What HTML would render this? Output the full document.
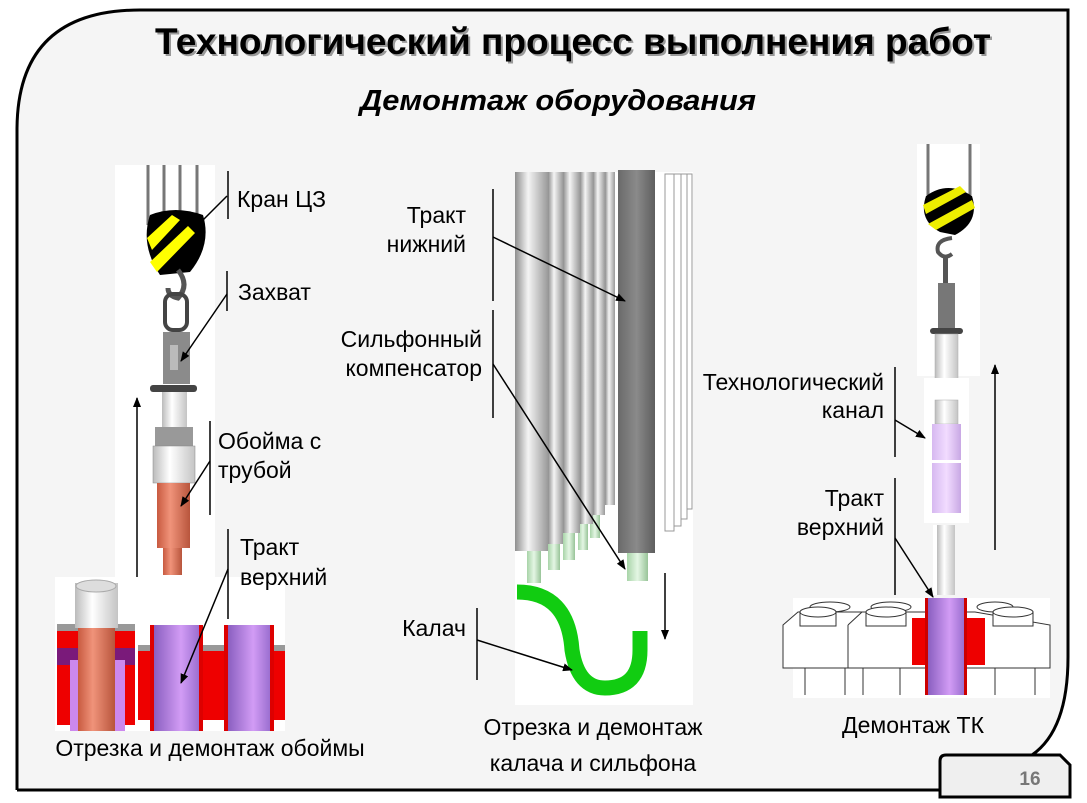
<!DOCTYPE html>
<html><head><meta charset="utf-8"><style>
html,body{margin:0;padding:0;background:#fff;}
svg{display:block;font-family:"Liberation Sans",sans-serif;}
</style></head><body>
<svg width="1087" height="803" viewBox="0 0 1087 803" xmlns="http://www.w3.org/2000/svg">
<defs>
<linearGradient id="gp" x1="0" x2="1"><stop offset="0" stop-color="#8e8e8e"/><stop offset="0.4" stop-color="#f4f4f4"/><stop offset="1" stop-color="#9a9a9a"/></linearGradient>
<linearGradient id="gd" x1="0" x2="1"><stop offset="0" stop-color="#6a6a6a"/><stop offset="0.5" stop-color="#8a8a8a"/><stop offset="1" stop-color="#5e5e5e"/></linearGradient>
<linearGradient id="gs" x1="0" x2="1"><stop offset="0" stop-color="#c85a40"/><stop offset="0.4" stop-color="#f0937a"/><stop offset="1" stop-color="#b8553c"/></linearGradient>
<linearGradient id="gv" x1="0" x2="1"><stop offset="0" stop-color="#8a5fc0"/><stop offset="0.6" stop-color="#d29cf5"/><stop offset="1" stop-color="#9b6fd0"/></linearGradient>
<linearGradient id="gk" x1="0" x2="1"><stop offset="0" stop-color="#d6b8f0"/><stop offset="0.5" stop-color="#f2dcff"/><stop offset="1" stop-color="#c8a8e4"/></linearGradient>
<linearGradient id="gg" x1="0" x2="1"><stop offset="0" stop-color="#a8d4a8"/><stop offset="0.5" stop-color="#e4f6e4"/><stop offset="1" stop-color="#98c498"/></linearGradient>
<linearGradient id="gw" x1="0" x2="1"><stop offset="0" stop-color="#bbb"/><stop offset="0.4" stop-color="#fff"/><stop offset="1" stop-color="#c4c4c4"/></linearGradient>
<marker id="ar" markerWidth="10" markerHeight="8" refX="9" refY="4" orient="auto" markerUnits="userSpaceOnUse"><path d="M0,0 L10,4 L0,8 z" fill="#000"/></marker>
</defs>
<!-- frame -->
<path d="M17,790 L17,130 Q17,10 140,10 L1068,10 L1068,657 Q1068,730 1032,755 L940,755 L940,790 Z" fill="#f5f5f5"/>
<path d="M17,790 L17,130 Q17,10 140,10 L1068,10 L1068,657 Q1068,730 1032,755" fill="none" stroke="#000" stroke-width="3"/>
<line x1="17" y1="790" x2="941" y2="790" stroke="#000" stroke-width="3"/>
<path d="M946,755 L1060,755 L1070,765 L1070,797 L940,797 L940,761 Q940,755 946,755 z" fill="#efefef" stroke="#000" stroke-width="3"/>
<text x="1030" y="785" font-size="19" font-weight="bold" fill="#777" text-anchor="middle">16</text>
<!-- titles -->
<text x="573" y="54" font-size="37" font-weight="bold" text-anchor="middle" fill="#999" transform="translate(2,2)" textLength="836" lengthAdjust="spacingAndGlyphs">Технологический процесс выполнения работ</text>
<text x="573" y="54" font-size="37" font-weight="bold" text-anchor="middle" fill="#000" textLength="836" lengthAdjust="spacingAndGlyphs">Технологический процесс выполнения работ</text>
<text x="558" y="110" font-size="29" font-weight="bold" font-style="italic" text-anchor="middle" fill="#000" textLength="396" lengthAdjust="spacingAndGlyphs">Демонтаж оборудования</text>

<!-- LEFT ILLUSTRATION -->
<rect x="115" y="165" width="100" height="415" fill="#fff"/>
<g stroke="#777" stroke-width="3"><line x1="148" y1="165" x2="148" y2="225"/><line x1="164" y1="165" x2="164" y2="225"/><line x1="180" y1="165" x2="180" y2="225"/><line x1="197" y1="165" x2="197" y2="225"/></g>
<path d="M150,215 Q175,205 203,215 Q212,245 190,272 L160,275 Q140,245 150,215 z" fill="#000"/>
<path d="M147,238 L172,215 L180,220 L152,250 z M150,262 L188,226 L195,233 L157,272 z" fill="#ff0"/>
<path d="M178,270 Q190,285 178,298 Q168,296 168,288" fill="none" stroke="#555" stroke-width="5"/>
<rect x="165" y="294" width="22" height="36" rx="8" fill="none" stroke="#444" stroke-width="4"/>
<rect x="163" y="332" width="27" height="52" fill="#8b8b8b"/>
<rect x="170" y="345" width="8" height="25" fill="#bbb"/>
<rect x="150" y="385" width="47" height="7" rx="3" fill="#444"/>
<rect x="162" y="392" width="25" height="35" fill="url(#gw)"/>
<rect x="155" y="427" width="38" height="19" fill="#999"/>
<rect x="153" y="446" width="42" height="37" fill="url(#gw)" stroke="#888" stroke-width="0.5"/>
<rect x="157" y="483" width="33" height="65" fill="url(#gs)"/>
<rect x="163" y="548" width="19" height="27" fill="url(#gs)"/>
<rect x="163" y="583" width="22" height="36" rx="4" fill="url(#gs)"/>
<ellipse cx="174" cy="602" rx="6" ry="4" fill="#fff"/>
<line x1="137" y1="588" x2="137" y2="398" stroke="#000" stroke-width="1.5" marker-end="url(#ar)"/>
<!-- left bottom panel -->
<rect x="55" y="577" width="230" height="154" fill="#fff"/>
<rect x="57" y="628" width="78" height="97" fill="#e00"/>
<rect x="57" y="624" width="78" height="7" fill="#999"/>
<rect x="57" y="648" width="78" height="17" fill="#7a1a7a"/>
<rect x="70" y="660" width="55" height="71" fill="#cc88ee"/>
<rect x="78" y="628" width="37" height="103" fill="url(#gs)"/>
<rect x="75" y="583" width="43" height="45" fill="url(#gw)"/>
<ellipse cx="96" cy="586" rx="20" ry="6" fill="#ddd" stroke="#aaa"/>
<rect x="138" y="650" width="147" height="70" fill="#e00"/>
<rect x="138" y="645" width="147" height="6" fill="#999"/>
<rect x="150" y="625" width="53" height="106" fill="#d00"/>
<rect x="154" y="625" width="45" height="106" fill="url(#gv)"/>
<rect x="224" y="625" width="50" height="106" fill="#d00"/>
<rect x="228" y="625" width="42" height="106" fill="url(#gv)"/>
<!-- left labels -->
<g font-size="23" fill="#000">
<text x="237" y="207">Кран ЦЗ</text>
<text x="238" y="300">Захват</text>
<text x="218" y="449">Обойма с</text>
<text x="218" y="478">трубой</text>
<text x="240" y="555">Тракт</text>
<text x="240" y="585">верхний</text>
<text x="210" y="756" text-anchor="middle">Отрезка и демонтаж обоймы</text>
</g>
<g stroke="#000" stroke-width="1.5" fill="none">
<line x1="228" y1="171" x2="228" y2="219"/><line x1="227" y1="196" x2="200" y2="223"/>
<line x1="227" y1="271" x2="227" y2="311"/><line x1="227" y1="294" x2="181" y2="361" marker-end="url(#ar)"/>
<line x1="210" y1="421" x2="210" y2="515"/><line x1="210" y1="461" x2="181" y2="506" marker-end="url(#ar)"/>
<line x1="228" y1="529" x2="228" y2="619"/><line x1="228" y1="569" x2="181" y2="683" marker-end="url(#ar)"/>
</g>

<!-- MIDDLE -->
<rect x="515" y="172" width="178" height="533" fill="#fff"/>
<rect x="527" y="548" width="14" height="35" fill="url(#gg)"/>
<rect x="548" y="540" width="12" height="30" fill="url(#gg)"/>
<rect x="563" y="530" width="12" height="30" fill="url(#gg)"/>
<rect x="578" y="520" width="10" height="30" fill="url(#gg)"/>
<rect x="590" y="510" width="10" height="28" fill="url(#gg)"/>
<rect x="515" y="172" width="33" height="379" fill="url(#gp)"/>
<rect x="548" y="172" width="15" height="372" fill="url(#gp)"/>
<rect x="563" y="172" width="17" height="361" fill="url(#gp)"/>
<rect x="580" y="172" width="13" height="352" fill="url(#gp)"/>
<rect x="593" y="172" width="12" height="343" fill="url(#gp)"/>
<rect x="605" y="172" width="10" height="333" fill="url(#gp)"/>
<rect x="618" y="170" width="37" height="383" fill="url(#gd)"/>
<rect x="627" y="553" width="21" height="28" fill="url(#gg)"/>
<g fill="#fff" stroke="#999" stroke-width="1">
<rect x="665" y="174" width="9" height="357"/><rect x="674" y="174" width="7" height="352"/><rect x="681" y="174" width="6" height="345"/><rect x="687" y="174" width="5" height="335"/>
</g>
<path d="M517,592 Q568,592 572,650 Q578,688 605,688 Q640,688 640,650 L640,631" fill="none" stroke="#11cc11" stroke-width="15"/>
<line x1="665" y1="573" x2="665" y2="639" stroke="#000" stroke-width="1.5" marker-end="url(#ar)"/>
<g font-size="23" fill="#000" text-anchor="end">
<text x="466" y="223">Тракт</text>
<text x="466" y="252">нижний</text>
<text x="482" y="347">Сильфонный</text>
<text x="482" y="376">компенсатор</text>
<text x="466" y="636">Калач</text>
</g>
<g font-size="23" fill="#000" text-anchor="middle">
<text x="593" y="735">Отрезка и демонтаж</text>
<text x="593" y="771">калача и сильфона</text>
<text x="913" y="733">Демонтаж ТК</text>
</g>
<g stroke="#000" stroke-width="1.5" fill="none">
<line x1="493" y1="189" x2="493" y2="301"/><line x1="493" y1="237" x2="625" y2="301" marker-end="url(#ar)"/>
<line x1="493" y1="310" x2="493" y2="418"/><line x1="493" y1="364" x2="625" y2="569" marker-end="url(#ar)"/>
<line x1="477" y1="608" x2="477" y2="680"/><line x1="477" y1="640" x2="572" y2="670" marker-end="url(#ar)"/>
</g>

<!-- RIGHT -->
<rect x="917" y="144" width="63" height="232" fill="#fff"/>
<g stroke="#777" stroke-width="3"><line x1="928" y1="144" x2="928" y2="195"/><line x1="970" y1="144" x2="970" y2="195"/></g>
<path d="M926,196 Q948,180 972,196 Q980,222 955,235 L940,232 Q918,220 926,196 z" fill="#000"/>
<path d="M923,205 L960,186 L966,192 L926,214 z M928,224 L972,200 L975,208 L936,230 z" fill="#ee0"/>
<path d="M952,238 Q935,240 938,252 Q944,260 952,254" fill="none" stroke="#555" stroke-width="4"/>
<rect x="943" y="258" width="5" height="26" fill="#555"/>
<rect x="938" y="283" width="17" height="45" fill="#777"/>
<rect x="930" y="328" width="33" height="6" rx="3" fill="#444"/>
<rect x="935" y="334" width="23" height="62" fill="url(#gw)" stroke="#aaa" stroke-width="0.5"/>
<rect x="924" y="378" width="45" height="145" fill="#fff"/>
<rect x="935" y="400" width="23" height="24" fill="url(#gw)" stroke="#aaa" stroke-width="0.5"/>
<rect x="932" y="424" width="29" height="36" fill="url(#gk)"/>
<rect x="932" y="463" width="29" height="50" fill="url(#gk)"/>
<rect x="933" y="525" width="22" height="70" fill="#fff"/>
<rect x="937" y="525" width="18" height="70" fill="url(#gw)"/>
<rect x="793" y="598" width="257" height="100" fill="#fff"/>
<g fill="#fff" stroke="#333" stroke-width="1">
<path d="M783,625 L798,612 L975,612 L1050,625 L1050,668 L783,668 z"/>
<line x1="848" y1="625" x2="848" y2="668"/><line x1="848" y1="625" x2="862" y2="612"/>
<line x1="805" y1="668" x2="805" y2="695"/><line x1="845" y1="668" x2="845" y2="695"/>
<line x1="863" y1="668" x2="863" y2="695"/><line x1="900" y1="668" x2="900" y2="695"/>
<line x1="995" y1="668" x2="995" y2="695"/><line x1="1035" y1="668" x2="1035" y2="695"/>
<ellipse cx="830" cy="607" rx="20" ry="5"/><rect x="800" y="612" width="36" height="14"/><ellipse cx="818" cy="612" rx="18" ry="5"/>
<ellipse cx="891" cy="607" rx="20" ry="5"/><rect x="866" y="612" width="40" height="14"/><ellipse cx="886" cy="612" rx="20" ry="5"/>
<ellipse cx="995" cy="607" rx="18" ry="5"/><rect x="993" y="612" width="40" height="14"/><ellipse cx="1013" cy="612" rx="20" ry="5"/>
</g>
<rect x="912" y="618" width="73" height="47" fill="#e00"/>
<rect x="925" y="598" width="42" height="97" fill="#c00"/>
<rect x="928" y="598" width="36" height="97" fill="url(#gv)"/>
<line x1="995" y1="550" x2="995" y2="365" stroke="#000" stroke-width="1.5" marker-end="url(#ar)"/>
<g font-size="23" fill="#000" text-anchor="end">
<text x="884" y="390">Технологический</text>
<text x="884" y="418">канал</text>
<text x="884" y="506">Тракт</text>
<text x="884" y="535">верхний</text>
</g>
<g stroke="#000" stroke-width="1.5" fill="none">
<line x1="895" y1="367" x2="895" y2="457"/><line x1="895" y1="420" x2="925" y2="438" marker-end="url(#ar)"/>
<line x1="895" y1="478" x2="895" y2="595"/><line x1="895" y1="538" x2="933" y2="597" marker-end="url(#ar)"/>
</g>
</svg>
</body></html>
